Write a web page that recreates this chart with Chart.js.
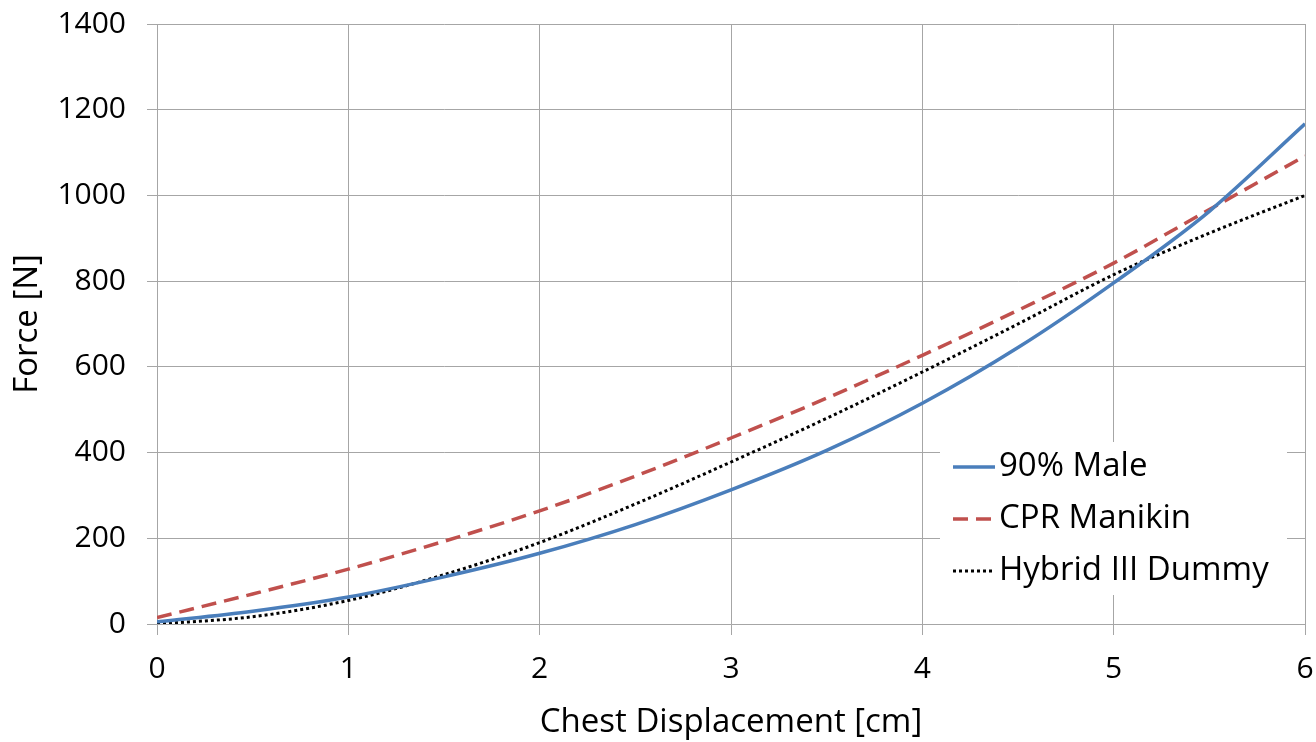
<!DOCTYPE html>
<html>
<head>
<meta charset="utf-8">
<script src="https://cdn.jsdelivr.net/npm/chart.js@4.4.1/dist/chart.umd.min.js"></script>
<style>
  html, body { margin: 0; padding: 0; background: #fff; }
  #wrap { width: 1316px; height: 742px; }
</style>
</head>
<body>
<div id="wrap"><canvas id="forceChart" width="1316" height="742"></canvas></div>
<script>
// chest displacement [cm], read every 0.5 cm off the curves
const displacement = [0, 0.5, 1, 1.5, 2, 2.5, 3, 3.5, 4, 4.5, 5, 5.5, 6];
// force [N]
const male90     = [5, 30, 63, 110, 165, 232, 313, 405, 515, 645, 796, 963, 1167];
const cprManikin = [15, 70, 128, 193, 264, 345, 434, 527, 627, 732, 842, 967, 1092];
const hybridIII  = [0, 17, 55, 115, 190, 280, 378, 480, 588, 700, 815, 912, 1000];

const seriesNames = ['90% Male', 'CPR Manikin', 'Hybrid III Dummy'];
const xTicks = [0, 1, 2, 3, 4, 5, 6];
const yTicks = [0, 200, 400, 600, 800, 1000, 1200, 1400];

const FONT = "'Open Sans', 'Liberation Sans', sans-serif";
const GRID = '#a6a6a6';

function pts(ys) {
    return displacement.map((x, i) => ({ x: x, y: ys[i] }));
}

// legend drawn inside the plot, lower right, on a white box
const insetLegend = {
    id: 'insetLegend',
    afterDraw(chart) {
        const ctx = chart.ctx;
        ctx.save();
        ctx.fillStyle = '#fff';
        ctx.fillRect(940, 442, 347, 153);
        ctx.font = '33px ' + FONT;
        ctx.textBaseline = 'middle';
        chart.data.datasets.forEach((ds, i) => {
            const cy = 467 + i * 52;
            ctx.strokeStyle = ds.borderColor;
            ctx.lineWidth = ds.borderWidth;
            ctx.setLineDash(ds.borderDash || []);
            ctx.beginPath();
            ctx.moveTo(953, cy);
            ctx.lineTo(995, cy);
            ctx.stroke();
            ctx.setLineDash([]);
            ctx.fillStyle = '#000';
            ctx.fillText(ds.label, 999, cy);
        });
        ctx.restore();
    }
};

// keep the plot box fixed: no extra room for label overhang
function noOverhang(s) {
    s.paddingLeft = 0;
    s.paddingRight = 0;
    s.paddingTop = 0;
    s.paddingBottom = 0;
}

const ctx = document.getElementById('forceChart').getContext('2d');
new Chart(ctx, {
    type: 'scatter',
    data: {
        datasets: [
            {
                label: seriesNames[0],
                data: pts(male90),
                showLine: true,
                borderColor: '#4a7ebb',
                borderWidth: 3.5,
                pointRadius: 0,
                cubicInterpolationMode: 'monotone'
            },
            {
                label: seriesNames[1],
                data: pts(cprManikin),
                showLine: true,
                borderColor: '#c0504d',
                borderWidth: 3.5,
                borderDash: [15, 8],
                pointRadius: 0,
                cubicInterpolationMode: 'monotone'
            },
            {
                label: seriesNames[2],
                data: pts(hybridIII),
                showLine: true,
                borderColor: '#000000',
                borderWidth: 3,
                borderDash: [3, 3],
                pointRadius: 0,
                cubicInterpolationMode: 'monotone'
            }
        ]
    },
    options: {
        responsive: false,
        animation: false,
        devicePixelRatio: 1,
        layout: { padding: { left: 0, right: 11, top: 24, bottom: 0 } },
        plugins: {
            legend: { display: false },
            tooltip: { enabled: false }
        },
        scales: {
            x: {
                type: 'linear',
                min: 0,
                max: 6,
                afterBuildTicks: (s) => { s.ticks = xTicks.map(v => ({ value: v })); },
                afterFit: (s) => { s.height = 118; noOverhang(s); },
                grid: { color: GRID, lineWidth: 1, tickLength: 11, drawTicks: true },
                border: { color: GRID },
                ticks: {
                    color: '#000',
                    padding: 16,
                    maxRotation: 0,
                    callback: (v) => String(v),
                    font: { family: FONT, size: 30 }
                },
                title: {
                    display: true,
                    text: 'Chest Displacement [cm]',
                    color: '#000',
                    padding: { top: 0, bottom: 0 },
                    font: { family: FONT, size: 33 }
                }
            },
            y: {
                type: 'linear',
                min: 0,
                max: 1400,
                afterBuildTicks: (s) => { s.ticks = yTicks.map(v => ({ value: v })); },
                afterFit: (s) => { s.width = 157; noOverhang(s); },
                grid: { color: GRID, lineWidth: 1, tickLength: 10, drawTicks: true },
                border: { color: GRID },
                ticks: {
                    color: '#000',
                    padding: 21,
                    callback: (v) => String(v),
                    font: { family: FONT, size: 30 }
                },
                title: {
                    display: true,
                    text: 'Force [N]',
                    color: '#000',
                    padding: { top: 8, bottom: 0 },
                    font: { family: FONT, size: 33 }
                }
            }
        }
    },
    plugins: [insetLegend]
});
</script>
</body>
</html>
